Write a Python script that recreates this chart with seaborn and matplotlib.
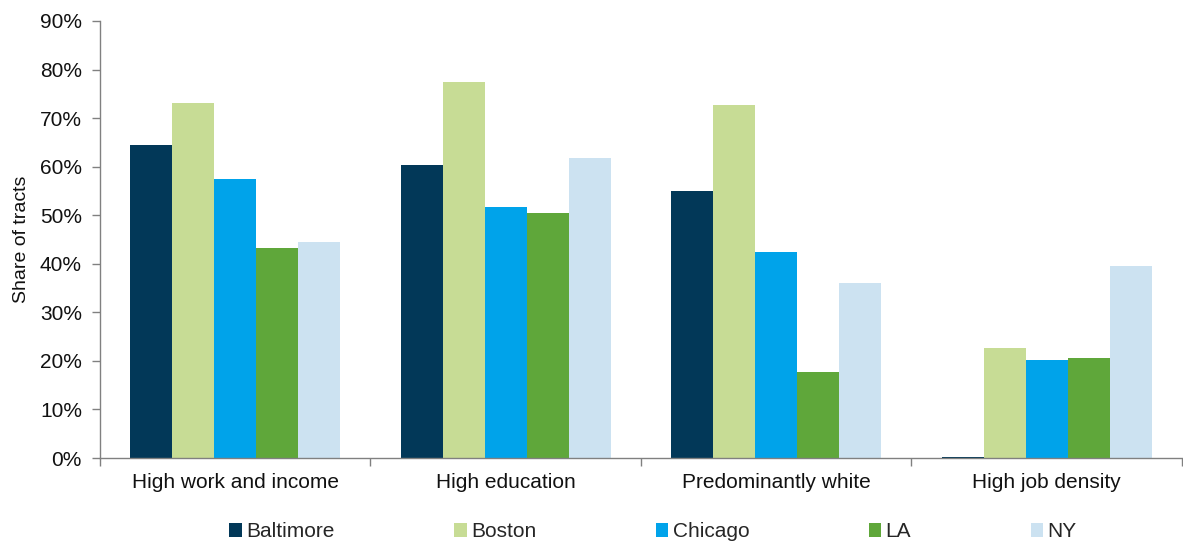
import matplotlib
matplotlib.use("Agg")
import matplotlib.pyplot as plt
import seaborn as sns
import pandas as pd
from matplotlib.ticker import PercentFormatter, FixedLocator

categories = ["High work and income", "High education", "Predominantly white", "High job density"]
cities = ["Baltimore", "Boston", "Chicago", "LA", "NY"]
baltimore = [64.5, 60.4, 55.0, 0.2]
boston = [73.1, 77.5, 72.8, 22.6]
chicago = [57.4, 51.6, 42.5, 20.1]
la = [43.3, 50.5, 17.8, 20.5]
ny = [44.5, 61.7, 36.1, 39.6]
colors = ["#023858", "#c7dc95", "#00a3ea", "#5fa73a", "#cce2f1"]

series = [baltimore, boston, chicago, la, ny]
rows = []
for city, vals in zip(cities, series):
    for cat, v in zip(categories, vals):
        rows.append({"Category": cat, "City": city, "Value": v})
df = pd.DataFrame(rows)

sns.set_theme(style="white")
plt.rcParams["font.family"] = ["Liberation Sans", "DejaVu Sans"]

fig = plt.figure(figsize=(11.83, 5.41), dpi=100)
ax = fig.add_axes([100/1183, (541-458)/541, (1183-101)/1183, (458-21)/541])

sns.barplot(data=df, x="Category", y="Value", hue="City", order=categories,
            hue_order=cities, palette=colors, width=0.775, gap=0, saturation=1,
            edgecolor="none", ax=ax, legend=True)

ax.set_ylim(0, 90)
ax.set_xlim(-0.5, 3.5)
ax.yaxis.set_major_formatter(PercentFormatter(decimals=0))
ax.set_yticks(range(0, 91, 10))
ax.tick_params(axis="y", labelsize=15, length=6, width=1, direction="out", left=True, pad=7,
               colors="#808080", labelcolor="#111111")
ax.tick_params(axis="x", labelsize=15, labelcolor="#111111", length=0, pad=11)
ax.xaxis.set_minor_locator(FixedLocator([-0.5, 0.5, 1.5, 2.5, 3.5]))
ax.tick_params(axis="x", which="minor", bottom=True, length=6, width=1, color="#808080", direction="out")
ax.set_xlabel("")
ax.set_ylabel("Share of tracts", fontsize=14, color="#111111", labelpad=7)
for s in ["top", "right"]:
    ax.spines[s].set_visible(False)
for s in ["left", "bottom"]:
    ax.spines[s].set_color("#808080")
    ax.spines[s].set_linewidth(1)

handles, labels = ax.get_legend_handles_labels()
ax.legend_.remove()
leg = fig.legend(handles, labels, loc="lower left", bbox_to_anchor=(221/1183, -0.016), ncol=5,
                 frameon=False, fontsize=15, handlelength=0.6, handleheight=0.6,
                 handletextpad=0.2, columnspacing=5.75, borderaxespad=0)

fig.savefig("out.png", dpi=100)
